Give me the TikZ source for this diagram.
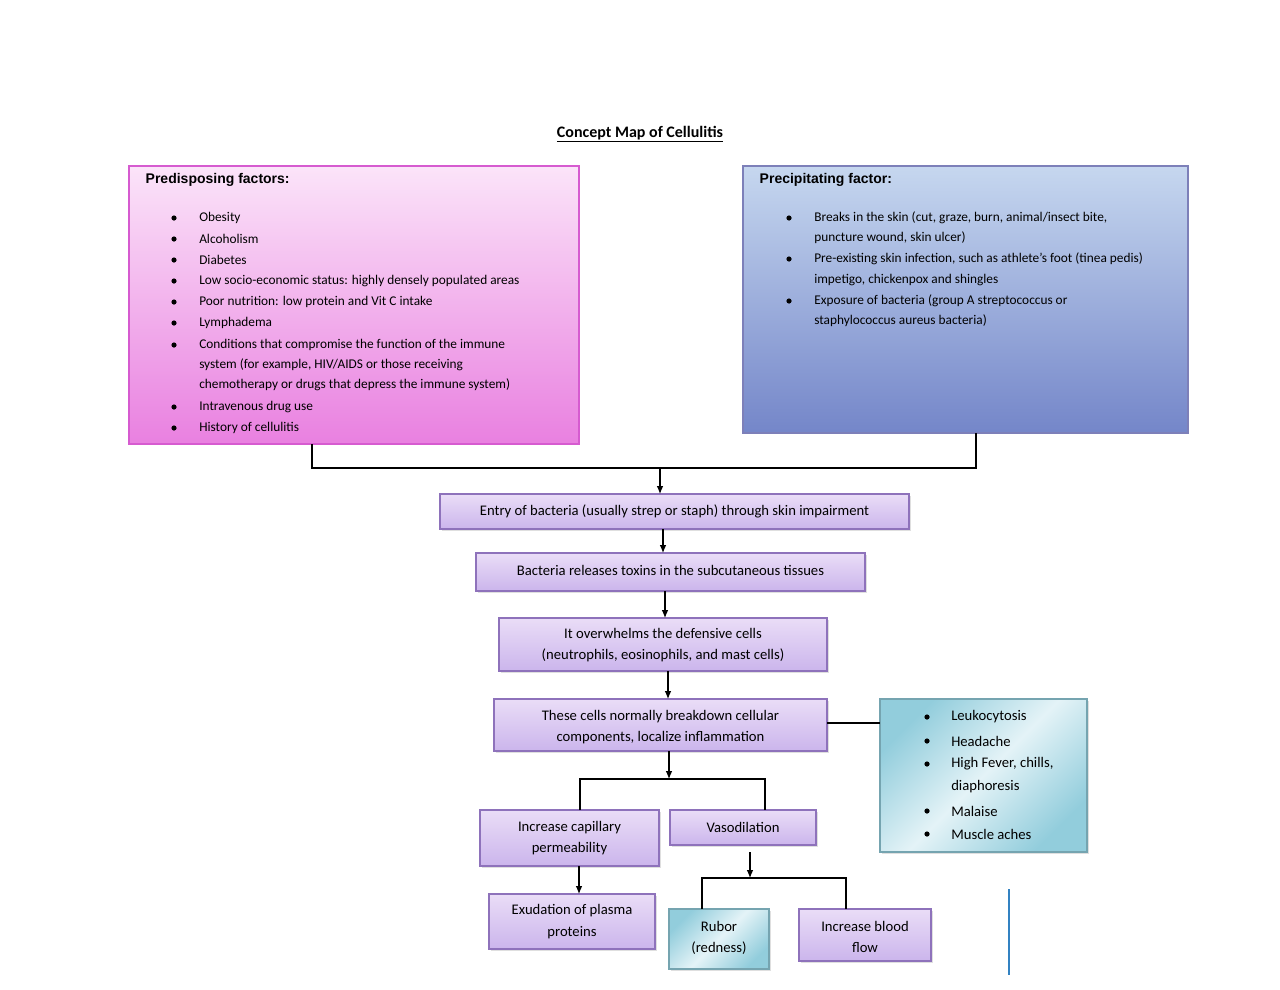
\documentclass[tikz,border=0pt]{standalone}
\usepackage{fontspec}
\setmainfont{Carlito}
\newfontfamily\headfont{Liberation Sans}
\usetikzlibrary{arrows.meta,shadows}
\definecolor{pinktop}{HTML}{FBE4F9}
\definecolor{pinkbot}{HTML}{E980E0}
\definecolor{pinkline}{HTML}{D65BD0}
\definecolor{bluetop}{HTML}{C6D7EF}
\definecolor{bluebot}{HTML}{7486C9}
\definecolor{blueline}{HTML}{7D80B9}
\definecolor{purptop}{HTML}{EADDF7}
\definecolor{purpbot}{HTML}{CBB5EC}
\definecolor{purpline}{HTML}{8E72BB}
\definecolor{tealdark}{HTML}{92CDDC}
\definecolor{teallight}{HTML}{E4F3F7}
\tikzset{
  stepbox/.style={draw=purpline, line width=0.8pt, top color=purptop, bottom color=purpbot,
    drop shadow={shadow xshift=1.5pt, shadow yshift=-1.5pt, fill=black!25}},
  tealbox/.style={draw=tealdark!80!black, line width=0.8pt, left color=tealdark, right color=tealdark,
    middle color=teallight, shading angle=45,
    drop shadow={shadow xshift=1.5pt, shadow yshift=-1.5pt, fill=black!25}},
  txt/.style={font=\fontsize{11}{13}\selectfont, align=center},
  lst/.style={font=\fontsize{10}{12}\selectfont, anchor=west, inner sep=0pt},
  arr/.style={-{Latex[length=6pt,width=5pt]}, line width=0.8pt},
  link/.style={line width=0.8pt}
}
\begin{document}
\begin{tikzpicture}[x=0.75pt, y=-0.75pt]
  \useasboundingbox (0,0) rectangle (1280,989);

  \node (title) at (640,134) {\fontsize{12}{14}\selectfont\bfseries\underline{Concept Map of Cellulitis}};

  % factor boxes
  \draw[draw=pinkline, line width=0.8pt, top color=pinktop, bottom color=pinkbot]
    (129,166) rectangle (579,444);
  \coordinate (pinkb) at (312,444);
  \node[anchor=west] (pdhead) at (141,180) {\headfont\fontsize{10.5}{12}\selectfont\bfseries Predisposing factors:};
  \foreach \y/\b/\t [count=\i] in {
      218/1/Obesity, 239/1/Alcoholism, 260/1/Diabetes,
      281/1/Low socio-economic status: highly densely populated areas,
      302/1/Poor nutrition: low protein and Vit C intake,
      323/1/Lymphadema,
      345/1/Conditions that compromise the function of the immune,
      365/0/{system (for example, HIV/AIDS or those receiving},
      385/0/chemotherapy or drugs that depress the immune system),
      407/1/Intravenous drug use, 428/1/History of cellulitis} {
    \node[lst] (pd\i) at (199,\y) {\t};
    \ifnum\b=1 \fill (174,\y) circle (2.6); \fi
  }

  \draw[draw=blueline, line width=0.8pt, top color=bluetop, bottom color=bluebot]
    (743,166) rectangle (1188,433);
  \coordinate (blueb) at (976,433);
  \node[anchor=west] (pchead) at (755,180) {\headfont\fontsize{10.5}{12}\selectfont\bfseries Precipitating factor:};
  \foreach \y/\b/\t [count=\i] in {
      218/1/{Breaks in the skin (cut, graze, burn, animal/insect bite,},
      238/0/{puncture wound, skin ulcer)},
      259/1/{Pre-existing skin infection, such as athlete's foot (tinea pedis)},
      280/0/{impetigo, chickenpox and shingles},
      301/1/{Exposure of bacteria (group A streptococcus or},
      321/0/{staphylococcus aureus bacteria)}} {
    \node[lst] (pc\i) at (814,\y) {\t};
    \ifnum\b=1 \fill (789,\y) circle (2.6); \fi
  }

  % chain
  \draw[stepbox] (440,494) rectangle (909,529);
  \node[txt] (entry) at (674.5,511.5) {Entry of bacteria (usually strep or staph) through skin impairment};
  \draw[stepbox] (476,553) rectangle (865,591);
  \node[txt] (toxins) at (670.5,570) {Bacteria releases toxins in the subcutaneous tissues};
  \draw[stepbox] (499,618) rectangle (827,671);
  \node[txt] (overwh) at (663,645) {It overwhelms the defensive cells\\[3pt](neutrophils, eosinophils, and mast cells)};
  \draw[stepbox] (494,699) rectangle (827,751);
  \node[txt] (cells) at (660.5,727) {These cells normally breakdown cellular\\[3pt]components, localize inflammation};

  \draw[tealbox] (880,699) rectangle (1087,852);
  \foreach \y/\b/\t [count=\i] in {717/1/Leukocytosis, 741/1/Headache, 764/1/{High Fever, chills,},
      787/0/diaphoresis, 811/1/Malaise, 834/1/Muscle aches/pain} {
    \node[lst, font=\fontsize{11}{13}\selectfont] (sy\i) at (951,\y) {\t};
    \ifnum\b=1 \fill (927,\y) circle (2.6); \fi
  }

  \draw[stepbox] (480,810) rectangle (659,866);
  \node[txt] (capil) at (569.5,838) {Increase capillary\\[3pt]permeability};
  \draw[stepbox] (670,810) rectangle (816,845);
  \node[txt] (vaso) at (743,827) {Vasodilation};
  \draw[stepbox] (489,894) rectangle (655,949);
  \node[txt] (exud) at (572,921.5) {Exudation of plasma\\[3pt]proteins};
  \draw[tealbox] (669,909) rectangle (769,969);
  \node[txt] (rubor) at (719,938) {Rubor\\[3pt](redness)};
  \draw[stepbox] (799,909) rectangle (931,961);
  \node[txt] (flow) at (865,937) {Increase blood\\[3pt]flow};

  % connectors
  \draw[link] (pinkb) -- (312,468) -- (976,468) -- (blueb);
  \draw[arr] (660,468) -- (660,494);
  \draw[arr] (663,529) -- (663,553);
  \draw[arr] (665,591) -- (665,618);
  \draw[arr] (668,671) -- (668,699);
  \draw[link] (827,723) -- (880,723);
  \draw[arr] (669,751) -- (669,779);
  \draw[link] (580,810) -- (580,779) -- (765,779) -- (765,810);
  \draw[arr] (579,866) -- (579,894);
  \draw[arr] (750,852) -- (750,878);
  \draw[link] (702,909) -- (702,878) -- (846,878) -- (846,909);

  \draw[line width=2.2pt, color=blue!45!cyan!70!black!80] (1009,889) -- (1009,975);
\end{tikzpicture}
\end{document}
